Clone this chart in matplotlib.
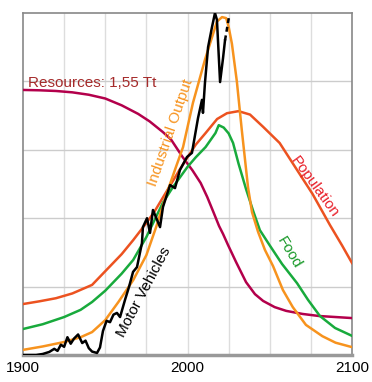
import matplotlib
matplotlib.use("Agg")
import matplotlib.pyplot as plt

# ---- data (normalized 0..1 values, years) ----
res_years = [1900, 1910, 1920, 1930, 1940, 1950, 1960, 1970, 1977, 1985, 1990, 1997, 2003, 2008, 2012, 2016, 2019.2, 2021.6, 2024.6, 2029.5, 2035.6, 2041, 2046, 2053, 2060, 2070, 2080, 2090, 2100]
res_vals  = [0.775, 0.774, 0.772, 0.768, 0.761, 0.75, 0.73, 0.705, 0.683, 0.652, 0.63, 0.579, 0.54, 0.503, 0.462, 0.415, 0.377, 0.354, 0.322, 0.272, 0.213, 0.178, 0.158, 0.14, 0.129, 0.12, 0.114, 0.111, 0.108]

pop_years = [1900, 1910, 1920, 1930, 1942, 1950, 1960, 1967, 1975, 1980, 1985, 1990, 1995, 2000, 2005, 2011, 2018, 2024, 2031, 2038, 2046, 2056, 2066.6, 2076, 2086.6, 2094, 2100]
pop_vals  = [0.149, 0.157, 0.166, 0.18, 0.205, 0.245, 0.295, 0.336, 0.386, 0.42, 0.46, 0.5, 0.54, 0.578, 0.615, 0.649, 0.69, 0.707, 0.713, 0.703, 0.667, 0.62, 0.541, 0.471, 0.38, 0.32, 0.269]

food_years = [1900, 1912, 1925, 1935, 1942, 1950, 1960, 1967, 1975, 1985, 1991, 1997, 2000, 2005, 2011, 2017, 2019, 2022, 2025, 2027.7, 2031, 2035.6, 2040, 2044, 2050.2, 2057.5, 2066.6, 2073.3, 2080.5, 2089.7, 2100]
food_vals  = [0.076, 0.09, 0.111, 0.132, 0.155, 0.188, 0.238, 0.278, 0.345, 0.445, 0.49, 0.53, 0.55, 0.578, 0.608, 0.649, 0.672, 0.665, 0.648, 0.62, 0.56, 0.485, 0.42, 0.365, 0.319, 0.266, 0.21, 0.161, 0.114, 0.079, 0.056]

ind_years = [1900, 1912, 1925, 1935, 1942, 1950, 1958, 1967, 1975, 1981, 1987.5, 1993, 1997.3, 2003.3, 2010.6, 2017.9, 2021, 2023.5, 2025, 2027, 2030, 2033, 2036.8, 2039.2, 2042.9, 2047.1, 2052, 2058, 2064, 2072, 2082, 2090, 2100]
ind_vals  = [0.015, 0.025, 0.038, 0.052, 0.067, 0.102, 0.155, 0.219, 0.292, 0.375, 0.474, 0.55, 0.608, 0.737, 0.863, 0.975, 0.988, 0.985, 0.96, 0.91, 0.8, 0.658, 0.49, 0.418, 0.36, 0.307, 0.26, 0.19, 0.14, 0.088, 0.055, 0.036, 0.023]

mv_years = [1900, 1908, 1912, 1916, 1919, 1921, 1923, 1925, 1927, 1929, 1931, 1933.5, 1936, 1938, 1940, 1942, 1945, 1946.8, 1948.6, 1950.8, 1952.9, 1955, 1957.1, 1959, 1962, 1964.5, 1966.9, 1969.3, 1972.3, 1972.9, 1975.4, 1977.2, 1979, 1981.5, 1983.3, 1985.1, 1989.4, 1992.4, 1995.4, 1999.7, 2002.7, 2006.4, 2008.8, 2009.4, 2010.6, 2012.5, 2014.9, 2016.7, 2017.9, 2019.8, 2021.6, 2022.8]
mv_vals  = [0.0, 0.0, 0.003, 0.009, 0.018, 0.012, 0.03, 0.024, 0.052, 0.033, 0.048, 0.06, 0.035, 0.042, 0.02, 0.01, 0.006, 0.022, 0.07, 0.1, 0.096, 0.118, 0.123, 0.111, 0.161, 0.2, 0.243, 0.257, 0.327, 0.374, 0.4, 0.357, 0.424, 0.395, 0.374, 0.433, 0.497, 0.488, 0.541, 0.579, 0.591, 0.693, 0.746, 0.708, 0.795, 0.9, 0.959, 1.0, 0.98, 0.798, 0.868, 0.92]
mv_proj_years = [2022.8, 2025.2]
mv_proj_vals  = [0.92, 0.988]

xticks = [1900, 2000, 2100]
xgrid = [1925, 1950, 1975, 2000, 2025, 2050, 2075]
ygrid = [0.2, 0.4, 0.6, 0.8]

plt.rcParams['font.family'] = ['Liberation Sans', 'DejaVu Sans']

fig = plt.figure(figsize=(3.72, 3.82), dpi=100)
ax = fig.add_axes([23/372, 27/382, 329/372, 342/382])
ax.set_xlim(1900, 2100)
ax.set_ylim(0, 1)

for x in xgrid:
    ax.axvline(x, color='#dddddd', lw=1.0, zorder=0)
for y in ygrid:
    ax.axhline(y, color='#cccccc', lw=1.0, zorder=0)

lw = 1.8
ax.plot(res_years, res_vals, color='#b3004b', lw=lw, zorder=3)
ax.plot(pop_years, pop_vals, color='#ec5220', lw=lw, zorder=3)
ax.plot(food_years, food_vals, color='#18aa3c', lw=lw, zorder=3)
ax.plot(ind_years, ind_vals, color='#f7931e', lw=lw, zorder=4)
ax.plot(mv_years, mv_vals, color='black', lw=lw, zorder=5)
ax.plot(mv_proj_years, mv_proj_vals, color='black', lw=lw, ls=(0, (2, 1.5)), zorder=5)

ax.text(1903, 0.784, 'Resources: 1,55 Tt', color='#a52a2a', fontsize=11, ha='left', va='baseline')
ax.text(1990, 0.649, 'Industrial Output', color='#f7931e', fontsize=11, rotation=71, ha='center', va='center')
ax.text(2077.5, 0.492, 'Population', color='#e8202a', fontsize=11, rotation=-54, ha='center', va='center')
ax.text(2062, 0.30, 'Food', color='#1a9a2a', fontsize=11, rotation=-59, ha='center', va='center')
ax.text(1973.5, 0.184, 'Motor Vehicles', color='black', fontsize=11, rotation=62, ha='center', va='center')

ax.set_xticks(xticks)
ax.set_xticklabels(['1900', '2000', '2100'], fontsize=11)
ax.set_yticks([])
ax.tick_params(axis='x', length=0, pad=4)

for s in ['top', 'right', 'left']:
    ax.spines[s].set_color('#888888')
    ax.spines[s].set_linewidth(1.2)
ax.spines['bottom'].set_color('#999999')
ax.spines['bottom'].set_linewidth(2.5)

fig.savefig('out.png', dpi=100)
